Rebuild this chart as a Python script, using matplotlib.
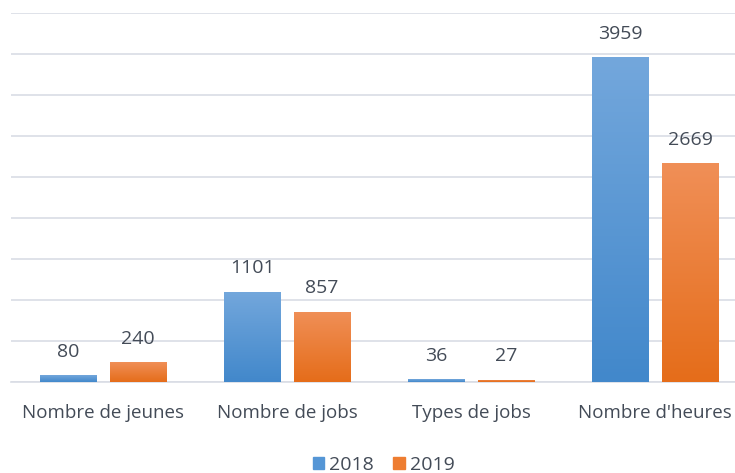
import matplotlib
matplotlib.use("Agg")
import matplotlib.pyplot as plt
import numpy as np
from matplotlib.colors import LinearSegmentedColormap

plt.rcParams["font.family"] = ["Open Sans", "DejaVu Sans"]

categories = ["Nombre de jeunes", "Nombre de jobs", "Types de jobs", "Nombre d'heures"]
series = ["2018", "2019"]
values_2018 = [80, 1101, 36, 3959]
values_2019 = [240, 857, 27, 2669]

# top / bottom colours of the gradient fill
grad = {
    "2018": ("#73a7dc", "#4288cb"),
    "2019": ("#f08f57", "#e56d1a"),
}
legend_col = {"2018": "#5596d6", "2019": "#ee7d31"}

W, H = 735, 473
fig = plt.figure(figsize=(W / 100, H / 100), dpi=100)
ax = fig.add_axes([11 / W, (H - 382) / H, (735 - 11) / W, (382 - 13) / H])

x = np.arange(len(categories))
width = 0.305
offset = 0.19
txt = "#434b57"

for s, vals, sign in [("2018", values_2018, -1), ("2019", values_2019, 1)]:
    bars = ax.bar(x + sign * offset, vals, width, color="none", edgecolor="none", zorder=3)
    cmap = LinearSegmentedColormap.from_list(s, [grad[s][1], grad[s][0]])
    for b, v in zip(bars, vals):
        x0, x1 = b.get_x(), b.get_x() + b.get_width()
        im = ax.imshow(np.linspace(0, 1, 100).reshape(-1, 1), cmap=cmap, origin="lower",
                       extent=[x0, x1, 0, v], aspect="auto", zorder=3)
        im.set_clip_path(b)
        ax.text(b.get_x() + b.get_width() / 2, v + 175, str(v), ha="center", va="bottom",
                fontsize=14, color=txt)

ax.set_xlim(-0.5, 3.5 - 12 / 184)
ax.set_ylim(0, 4500)
ax.set_yticks(np.arange(0, 4501, 500))
ax.yaxis.grid(True, color="#d9dde5", lw=1.2)
ax.set_axisbelow(True)
ax.tick_params(left=False, labelleft=False, bottom=False, labelsize=13.5, labelcolor=txt, pad=12)
ax.set_xticks(x)
ax.set_xticklabels(categories)
for sp in ["top", "right", "left"]:
    ax.spines[sp].set_visible(False)
ax.spines["bottom"].set_color("#d9dde5")
ax.spines["bottom"].set_linewidth(1.2)

handles = [plt.Rectangle((0, 0), 1, 1, color=legend_col[s]) for s in series]
fig.legend(handles, series, loc="center", bbox_to_anchor=(0.522, (H - 465) / H), ncol=2,
           frameon=False, fontsize=14, labelcolor=txt, handlelength=0.6, handleheight=0.6,
           handletextpad=0.25, columnspacing=1.0)

fig.savefig("out.png", dpi=100)
